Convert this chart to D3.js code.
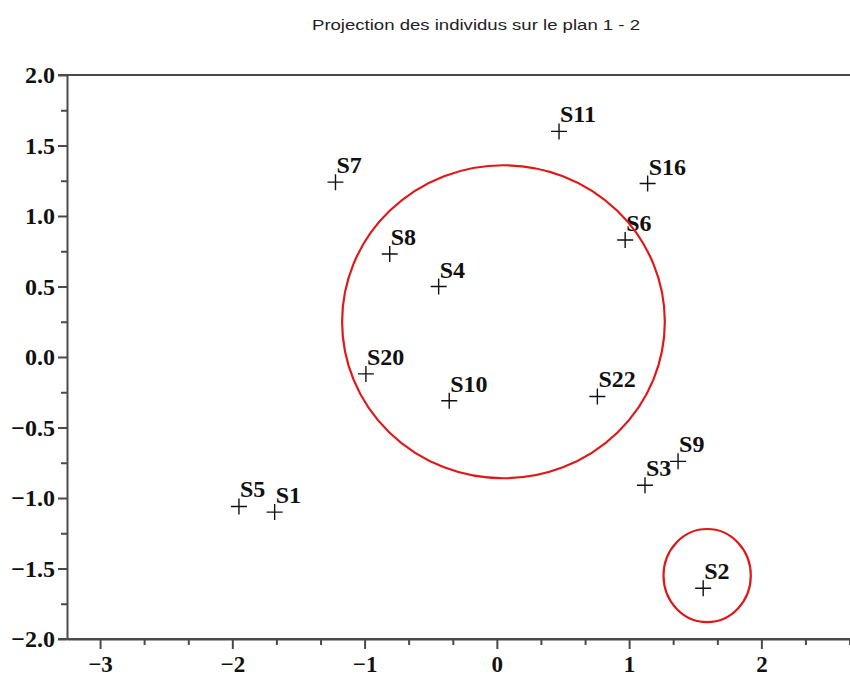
<!DOCTYPE html>
<html>
<head>
<meta charset="utf-8">
<script src="https://cdn.jsdelivr.net/npm/d3@7"></script>
<style>
  body { margin: 0; background: #fff; }
  .tick text { font-family: "Liberation Serif", "DejaVu Serif", serif; font-weight: bold; }
</style>
</head>
<body>
<div id="chart"></div>
<script>
// individuals projected on factorial plane 1-2
const names = ["S1", "S2", "S3", "S4", "S5", "S6", "S7", "S8", "S9", "S10", "S11", "S16", "S20", "S22"];
const axis1 = [-1.68, 1.56, 1.12, -0.44, -1.95, 0.97, -1.22, -0.81, 1.37, -0.36, 0.47, 1.14, -0.99, 0.76];
const axis2 = [-1.10, -1.64, -0.91, 0.50, -1.06, 0.83, 1.24, 0.73, -0.74, -0.31, 1.60, 1.23, -0.12, -0.28];

// group circles drawn on top (centre and radii in axis units)
const groupCx = [0.05, 1.59];
const groupCy = [0.25, -1.55];
const groupRx = [1.22, 0.33];
const groupRy = [1.11, 0.33];

const xTicks = [-3, -2, -1, 0, 1, 2];
const xMinor = [-2.667, -2.333, -1.667, -1.333, -0.667, -0.333, 0.333, 0.667, 1.333, 1.667, 2.333, 2.667];
const yTicks = [-2.0, -1.5, -1.0, -0.5, 0.0, 0.5, 1.0, 1.5, 2.0];
const yMinor = [-1.75, -1.25, -0.75, -0.25, 0.25, 0.75, 1.25, 1.75];

const title = "Projection des individus sur le plan 1 - 2";

const width = 850, height = 677;
const axisColor = "#4a4a4a";

const svg = d3.select("#chart").append("svg")
  .attr("width", width)
  .attr("height", height);

const x = d3.scaleLinear().domain([-3.25, 2.67]).range([67, 850]);
const y = d3.scaleLinear().domain([-2, 2]).range([639, 75]);

svg.append("text")
  .attr("x", 476)
  .attr("y", 29.5)
  .attr("text-anchor", "middle")
  .attr("font-family", "Liberation Sans, Arial, sans-serif")
  .attr("font-size", 15)
  .attr("textLength", 328)
  .attr("lengthAdjust", "spacingAndGlyphs")
  .attr("fill", "#222")
  .text(title);

// minor ticks
svg.append("g")
  .attr("transform", `translate(0,${y(-2)})`)
  .call(d3.axisBottom(x).tickValues(xMinor).tickSize(6).tickFormat(""))
  .call(g => g.select(".domain").remove())
  .selectAll("line").attr("stroke", axisColor).attr("stroke-width", 2);

svg.append("g")
  .attr("transform", `translate(${x(-3.25)},0)`)
  .call(d3.axisLeft(y).tickValues(yMinor).tickSize(6).tickFormat(""))
  .call(g => g.select(".domain").remove())
  .selectAll("line").attr("stroke", axisColor).attr("stroke-width", 2);

// major axes
const xAxis = svg.append("g")
  .attr("transform", `translate(0,${y(-2)})`)
  .call(d3.axisBottom(x).tickValues(xTicks).tickSize(10).tickSizeOuter(0).tickPadding(7).tickFormat(d3.format("d")));
xAxis.selectAll("text").attr("font-size", 23).attr("fill", "#111");

const yAxis = svg.append("g")
  .attr("transform", `translate(${x(-3.25)},0)`)
  .call(d3.axisLeft(y).tickValues(yTicks).tickSize(9).tickSizeOuter(0).tickPadding(3).tickFormat(d3.format(".1f")));
yAxis.selectAll("text").attr("font-size", 24).attr("fill", "#111");

svg.selectAll(".domain, .tick line").attr("stroke", axisColor).attr("stroke-width", 2);

// frame: bottom and top lines run from the tick ends to the right edge
svg.append("line")
  .attr("x1", x(-3.25) - 9).attr("x2", width)
  .attr("y1", y(2)).attr("y2", y(2))
  .attr("stroke", axisColor).attr("stroke-width", 2);
svg.append("line")
  .attr("x1", x(-3.25) - 9).attr("x2", width)
  .attr("y1", y(-2)).attr("y2", y(-2))
  .attr("stroke", axisColor).attr("stroke-width", 2);

const pts = names.map((n, i) => ({ name: n, x: axis1[i], y: axis2[i] }));

const pt = svg.append("g")
  .selectAll("g")
  .data(pts)
  .join("g")
  .attr("transform", d => `translate(${x(d.x)},${y(d.y)})`);

pt.append("path")
  .attr("d", "M-8,0H8M0,-8V8")
  .attr("stroke", "#111")
  .attr("stroke-width", 1.4)
  .attr("fill", "none");

pt.append("text")
  .attr("x", 1)
  .attr("y", -9)
  .attr("font-family", "Liberation Serif, DejaVu Serif, serif")
  .attr("font-weight", "bold")
  .attr("font-size", 24)
  .attr("fill", "#111")
  .text(d => d.name);

const groups = groupCx.map((c, i) => ({ cx: c, cy: groupCy[i], rx: groupRx[i], ry: groupRy[i] }));

svg.append("g")
  .selectAll("ellipse")
  .data(groups)
  .join("ellipse")
  .attr("cx", d => x(d.cx))
  .attr("cy", d => y(d.cy))
  .attr("rx", d => x(d.rx) - x(0))
  .attr("ry", d => y(0) - y(d.ry))
  .attr("fill", "none")
  .attr("stroke", "#e01818")
  .attr("stroke-width", 2.2);
</script>
</body>
</html>
